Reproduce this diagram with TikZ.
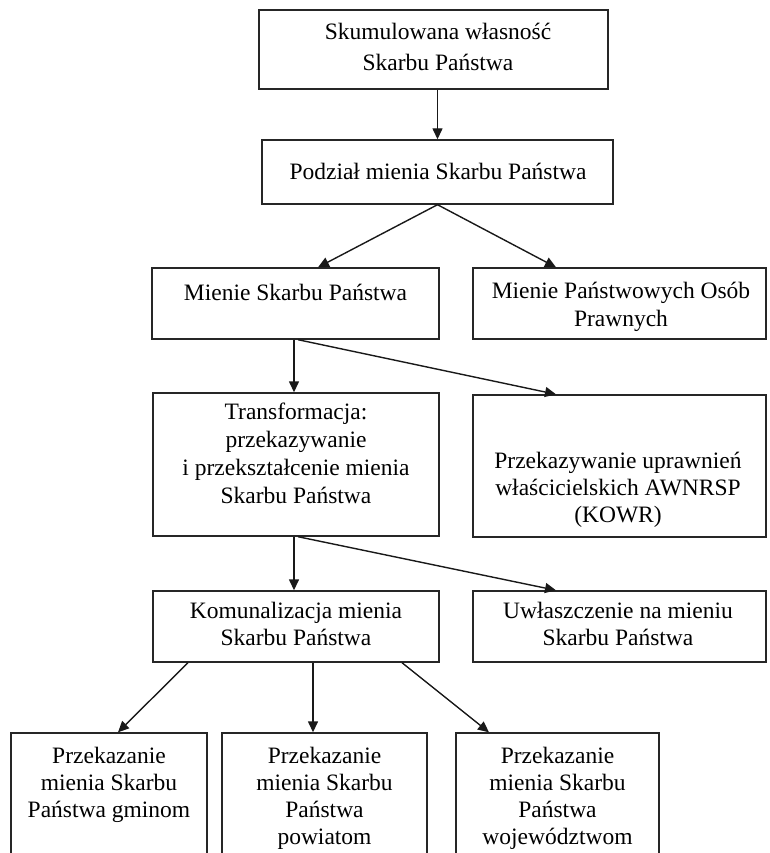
\documentclass[tikz,border=0pt]{standalone}
\usepackage{fontspec}
\setmainfont{LiberationSerif}[Extension=.ttf, UprightFont=*-Regular, BoldFont=*-Bold, ItalicFont=*-Italic]
\usetikzlibrary{arrows.meta}
\begin{document}
\begin{tikzpicture}[x=1pt,y=-1pt,
  box/.style={draw=black!85, line width=1.4pt, rectangle, inner sep=0pt},
  txt/.style={anchor=north, inner sep=0pt, align=center, text=black},
  conn/.style={draw=black!90, line width=1.4pt, -{Triangle[length=11pt,width=10pt]}},
]
\clip (0,0) rectangle (769,853);
% boxes
\node[box, minimum width=349pt, minimum height=79pt] (b1) at (433.5,49.5) {};
\node[box, minimum width=351pt, minimum height=64pt] (b2) at (437.5,172) {};
\node[box, minimum width=287pt, minimum height=71pt] (b3) at (295.5,303.5) {};
\node[box, minimum width=293pt, minimum height=71pt] (b4) at (619.5,303.5) {};
\node[box, minimum width=286pt, minimum height=143pt] (b5) at (296,464.5) {};
\node[box, minimum width=293pt, minimum height=142pt] (b6) at (619.5,466) {};
\node[box, minimum width=286pt, minimum height=71pt] (b7) at (296,626.5) {};
\node[box, minimum width=293pt, minimum height=71pt] (b8) at (619.5,626.5) {};
\node[box, minimum width=196pt, minimum height=137pt] (b9) at (109,801.5) {};
\node[box, minimum width=205pt, minimum height=137pt] (b10) at (324.5,801.5) {};
\node[box, minimum width=203pt, minimum height=137pt] (b11) at (557.5,801.5) {};
% texts
\node[txt, font=\fontsize{23.5}{31}\selectfont] (t1) at (438,17.3) {\strut Skumulowana własność\\Skarbu Państwa};
\node[txt, font=\fontsize{23.5}{28}\selectfont] (t2) at (438,159.4) {\strut Podział mienia Skarbu Państwa};
\node[txt, font=\fontsize{23.5}{28}\selectfont] (t3) at (295.5,280.4) {\strut Mienie Skarbu Państwa};
\node[txt, font=\fontsize{23.5}{28}\selectfont] (t4) at (621,278.4) {\strut Mienie Państwowych Osób\\Prawnych};
\node[txt, font=\fontsize{23.5}{28}\selectfont] (t5) at (296,399.4) {\strut Transformacja:\\przekazywanie\\i przekształcenie mienia\\Skarbu Państwa};
\node[txt, font=\fontsize{23.5}{27}\selectfont] (t6) at (618,449.1) {\strut Przekazywanie uprawnień\\właścicielskich AWNRSP\\(KOWR)};
\node[txt, font=\fontsize{23.5}{27}\selectfont] (t7) at (296,599.1) {\strut Komunalizacja mienia\\Skarbu Państwa};
\node[txt, font=\fontsize{23.5}{27}\selectfont] (t8) at (618,599.1) {\strut Uwłaszczenie na mieniu\\Skarbu Państwa};
\node[txt, font=\fontsize{23.5}{27}\selectfont] (t9) at (109,744.1) {\strut Przekazanie\\mienia Skarbu\\Państwa gminom};
\node[txt, font=\fontsize{23.5}{27}\selectfont] (t10) at (324.5,744.1) {\strut Przekazanie\\mienia Skarbu\\Państwa\\powiatom};
\node[txt, font=\fontsize{23.5}{27}\selectfont] (t11) at (557.5,744.1) {\strut Przekazanie\\mienia Skarbu\\Państwa\\województwom};
% connectors
\draw[conn] ([xshift=4pt]b1.south) -- (b2.north);
\draw[conn] (b2.south) -- ([xshift=22.5pt]b3.north);
\draw[conn] (b2.south) -- ([xshift=-63.5pt]b4.north);
\draw[conn] ([xshift=-1.5pt]b3.south) -- ([xshift=-2pt]b5.north);
\draw[conn] ([xshift=2.5pt]b3.south) -- ([xshift=-63.5pt]b6.north);
\draw[conn] ([xshift=-2pt]b5.south) -- ([xshift=-2pt]b7.north);
\draw[conn] ([xshift=2pt]b5.south) -- ([xshift=-63.5pt]b8.north);
\draw[conn] ([xshift=-108pt]b7.south) -- ([xshift=9pt]b9.north);
\draw[conn] ([xshift=17pt]b7.south) -- ([xshift=-11.5pt]b10.north);
\draw[conn] ([xshift=106pt]b7.south) -- ([xshift=-68.5pt]b11.north);
\end{tikzpicture}
\end{document}
